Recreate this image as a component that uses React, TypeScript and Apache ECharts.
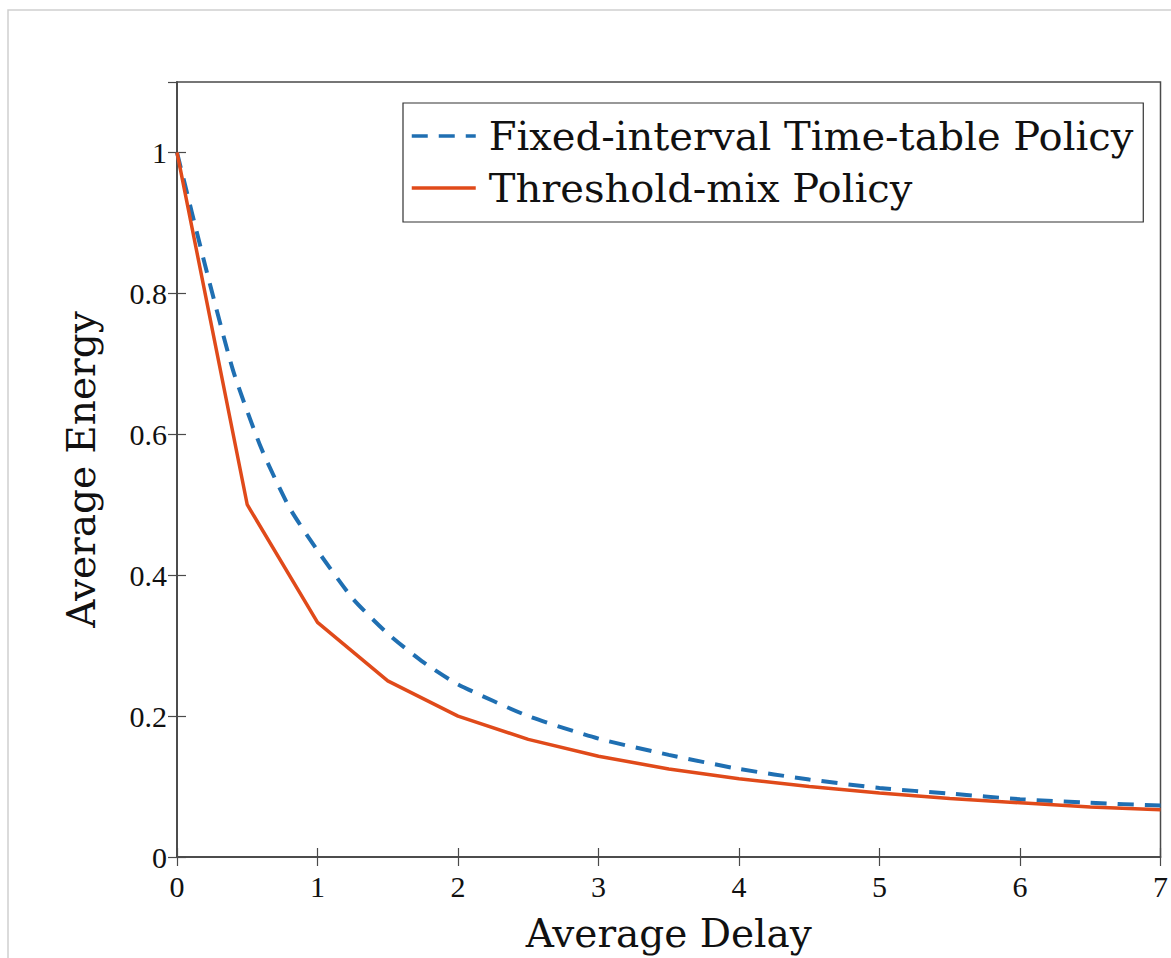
import React, { useEffect, useRef } from "react";
import * as echarts from "echarts";

const delayFixed = [0, 0.2, 0.4, 0.6, 0.8, 1, 1.25, 1.5, 1.75, 2, 2.5, 3, 3.5, 4, 4.5, 5, 5.5, 6, 6.5, 7];
const energyFixed = [1, 0.84, 0.69, 0.58, 0.496, 0.435, 0.367, 0.317, 0.277, 0.245, 0.2, 0.168, 0.145, 0.125, 0.11, 0.098, 0.09, 0.082, 0.077, 0.073];
const delayThreshold = [0, 0.5, 1, 1.5, 2, 2.5, 3, 3.5, 4, 4.5, 5, 5.5, 6, 6.5, 7];
const energyThreshold = [1, 0.5, 0.333, 0.25, 0.2, 0.167, 0.143, 0.125, 0.111, 0.1, 0.091, 0.083, 0.077, 0.071, 0.067];
const seriesNames = ["Fixed-interval Time-table Policy", "Threshold-mix Policy"];
const xTicks = [0, 1, 2, 3, 4, 5, 6, 7];
const yTicks = [0, 0.2, 0.4, 0.6, 0.8, 1];

const SERIF = "'DejaVu Serif', serif";
const TICKFONT = "'Liberation Serif', serif";
const AXIS = "#4a4a4a";

export default function App() {
  const ref = useRef<HTMLDivElement>(null);
  useEffect(() => {
    if (!ref.current) return;
    const chart = echarts.init(ref.current, null, { renderer: "svg" });
    const tickInside = { show: true, inside: true, length: 9, lineStyle: { color: AXIS, width: 1.2 } };
    chart.setOption({
      animation: false,
      backgroundColor: "#ffffff",
      graphic: [
        {
          type: "rect",
          shape: { x: 8, y: 10, width: 1200, height: 1000 },
          style: { fill: "none", stroke: "#cfcfcf", lineWidth: 1.5 },
          silent: true,
          z: -10,
        },
      ],
      grid: { left: 177, right: 6, top: 82, bottom: 101, show: true, borderColor: AXIS, borderWidth: 1.5, backgroundColor: "transparent" },
      legend: {
        left: 403,
        top: 103,
        orient: "vertical",
        data: seriesNames,
        itemWidth: 64,
        itemHeight: 16,
        itemGap: 12,
        padding: [13, 10, 14, 7],
        borderColor: "#333",
        borderWidth: 1.2,
        backgroundColor: "#fff",
        itemStyle: { opacity: 0 },
        lineStyle: { width: 3.5 },
        textStyle: { fontFamily: SERIF, fontSize: 40, color: "#111", padding: [0, 0, 0, 8] },
      },
      xAxis: [
        {
          type: "value",
          min: 0,
          max: 7,
          interval: 1,
          name: "Average Delay",
          nameLocation: "middle",
          nameGap: 57,
          nameTextStyle: { fontFamily: SERIF, fontSize: 39, color: "#111" },
          axisLine: { show: true, lineStyle: { color: AXIS, width: 1.5 } },
          axisTick: tickInside,
          axisLabel: { fontFamily: TICKFONT, fontSize: 30, color: "#111", margin: 14, formatter: (v: number) => (xTicks.includes(v) ? String(v) : "") },
          splitLine: { show: false },
        },
        {
          type: "value",
          position: "top",
          min: 0,
          max: 7,
          interval: 1,
          axisLine: { show: true, lineStyle: { color: AXIS, width: 1.5 } },
          axisTick: tickInside,
          axisLabel: { show: false },
          splitLine: { show: false },
        },
      ],
      yAxis: [
        {
          type: "value",
          min: 0,
          max: 1.1,
          interval: 0.2,
          name: "Average Energy",
          nameLocation: "middle",
          nameGap: 76,
          nameTextStyle: { fontFamily: SERIF, fontSize: 39, color: "#111" },
          axisLine: { show: true, lineStyle: { color: AXIS, width: 1.5 } },
          axisTick: tickInside,
          axisLabel: {
            fontFamily: TICKFONT,
            fontSize: 30,
            color: "#111",
            margin: 10,
            showMaxLabel: false,
            formatter: (v: number) => {
              const r = Math.round(v * 10) / 10;
              return yTicks.includes(r) ? String(r) : "";
            },
          },
          splitLine: { show: false },
        },
        {
          type: "value",
          position: "right",
          min: 0,
          max: 1.1,
          interval: 0.2,
          axisLine: { show: true, lineStyle: { color: AXIS, width: 1.5 } },
          axisTick: tickInside,
          axisLabel: { show: false },
          splitLine: { show: false },
        },
      ],
      series: [
        {
          name: seriesNames[0],
          type: "line",
          xAxisIndex: 0,
          yAxisIndex: 0,
          data: delayFixed.map((d, i) => [d, energyFixed[i]]),
          symbol: "none",
          smooth: 0.2,
          lineStyle: { color: "#1f6fb2", width: 4, type: [16, 11] },
          itemStyle: { color: "#1f6fb2" },
          z: 2,
        },
        {
          name: seriesNames[1],
          type: "line",
          xAxisIndex: 0,
          yAxisIndex: 0,
          data: delayThreshold.map((d, i) => [d, energyThreshold[i]]),
          symbol: "none",
          lineStyle: { color: "#e04a1a", width: 3.5 },
          itemStyle: { color: "#e04a1a" },
          z: 3,
        },
      ],
    });
    return () => chart.dispose();
  }, []);
  return <div ref={ref} style={{ position: "fixed", left: 0, top: 0, width: 1171, height: 958 }} />;
}
